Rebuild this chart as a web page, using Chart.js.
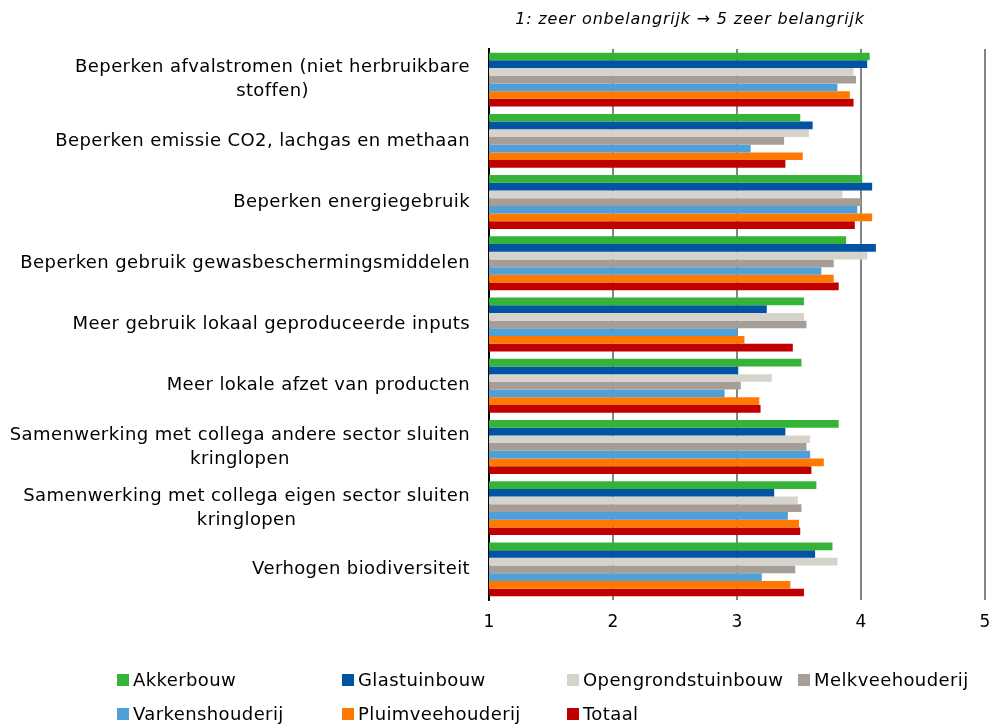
<!DOCTYPE html>
<html>
<head>
<meta charset="utf-8">
<script src="https://cdn.jsdelivr.net/npm/chart.js@4/dist/chart.umd.min.js"></script>
<style>
body { margin: 0; background: #fff; }
#wrap { position: relative; width: 994px; height: 724px; }
.item { position: absolute; font: 18px "DejaVu Sans"; letter-spacing: 0.4px; color: #000; display: flex; align-items: center; white-space: nowrap; line-height: 20px; }
.box { width: 12px; height: 12px; margin-right: 4px; }
</style>
</head>
<body>
<div id="wrap">
  <canvas id="c" width="994" height="724"></canvas>
  <div id="legend"></div>
</div>
<script>
// categories, top to bottom (line breaks as in the original)
var categories = [
  ['Beperken afvalstromen (niet herbruikbare', 'stoffen)'],
  ['Beperken emissie CO2, lachgas en methaan'],
  ['Beperken energiegebruik'],
  ['Beperken gebruik gewasbeschermingsmiddelen'],
  ['Meer gebruik lokaal geproduceerde inputs'],
  ['Meer lokale afzet van producten'],
  ['Samenwerking met collega andere sector sluiten', 'kringlopen'],
  ['Samenwerking met collega eigen sector sluiten', 'kringlopen'],
  ['Verhogen biodiversiteit']
];

var seriesNames = ['Akkerbouw', 'Glastuinbouw', 'Opengrondstuinbouw', 'Melkveehouderij',
                   'Varkenshouderij', 'Pluimveehouderij', 'Totaal'];

var akkerbouw          = [4.07, 3.51, 4.01, 3.88, 3.54, 3.52, 3.82, 3.64, 3.77];
var glastuinbouw       = [4.05, 3.61, 4.09, 4.12, 3.24, 3.01, 3.39, 3.30, 3.63];
var opengrondstuinbouw = [3.94, 3.58, 3.85, 4.05, 3.54, 3.28, 3.59, 3.49, 3.81];
var melkveehouderij    = [3.96, 3.38, 4.00, 3.78, 3.56, 3.03, 3.56, 3.52, 3.47];
var varkenshouderij    = [3.81, 3.11, 3.97, 3.68, 3.00, 2.90, 3.59, 3.41, 3.20];
var pluimveehouderij   = [3.91, 3.53, 4.09, 3.78, 3.06, 3.18, 3.70, 3.50, 3.43];
var totaal             = [3.94, 3.39, 3.95, 3.82, 3.45, 3.19, 3.60, 3.51, 3.54];

var xTicks = [1, 2, 3, 4, 5];
var titleText = '1: zeer onbelangrijk \u2192 5 zeer belangrijk';

var colors = ['#35b336', '#0054a2', '#d6d3cc', '#a59d96', '#4f9fd8', '#ff7800', '#c00000'];
var values = [akkerbouw, glastuinbouw, opengrondstuinbouw, melkveehouderij,
              varkenshouderij, pluimveehouderij, totaal];

var datasets = seriesNames.map(function(name, i) {
  return {
    label: name,
    data: values[i],
    backgroundColor: colors[i],
    borderWidth: 0,
    barPercentage: 1,
    categoryPercentage: 0.88
  };
});

// y labels drawn as centred blocks, right-aligned against the axis
var labelPlugin = {
  id: 'blockLabels',
  afterDraw: function(chart) {
    var ctx = chart.ctx;
    var yScale = chart.scales.y;
    ctx.save();
    ctx.fillStyle = '#000';
    ctx.textAlign = 'left';
    ctx.textBaseline = 'middle';
    ctx.font = '18px "DejaVu Sans"';
    ctx.letterSpacing = '0.4px';
    var right = chart.chartArea.left - 19;
    categories.forEach(function(lines, i) {
      var widths = lines.map(function(t) { return ctx.measureText(t).width; });
      var w = Math.max.apply(null, widths);
      var cx = right - w / 2;
      var cy = yScale.getPixelForValue(i);
      lines.forEach(function(t, j) {
        ctx.fillText(t, cx - widths[j] / 2, cy + (j - (lines.length - 1) / 2) * 24);
      });
    });
    ctx.font = 'italic 16px "DejaVu Sans"';
    ctx.letterSpacing = '0.8px';
    var tw = ctx.measureText(titleText).width;
    ctx.fillText(titleText, 690 - tw / 2, 20);
    ctx.restore();
  }
};

var ctx = document.getElementById('c').getContext('2d');
var chart = new Chart(ctx, {
  type: 'bar',
  data: {
    labels: categories.map(function(l) { return l.join(' '); }),
    datasets: datasets
  },
  options: {
    indexAxis: 'y',
    responsive: false,
    animation: false,
    layout: { padding: { top: 49, right: 9, bottom: 84, left: 0 } },
    plugins: {
      legend: { display: false },
      tooltip: { enabled: false }
    },
    scales: {
      x: {
        min: 1,
        max: 5,
        afterBuildTicks: function(s) { s.ticks = xTicks.map(function(v) { return { value: v }; }); },
        afterFit: function(s) { s.height = 40; s.paddingRight = 0; s.paddingLeft = 0; },
        grid: {
          color: function(c) { return c.tick && c.tick.value === 1 ? 'rgba(0,0,0,0)' : '#858585'; },
          lineWidth: 2,
          drawTicks: false
        },
        border: { display: false },
        ticks: {
          padding: 12,
          color: '#000',
          font: { family: 'DejaVu Sans', size: 17 }
        }
      },
      y: {
        afterFit: function(s) { s.width = 489; },
        grid: { display: false, drawTicks: false },
        border: { display: true, color: '#000', width: 2 },
        ticks: { display: false }
      }
    }
  },
  plugins: [labelPlugin]
});

// legend laid out in fixed columns like the original
var legendPos = [[117, 680], [342, 680], [567, 680], [798, 680],
                 [117, 714], [342, 714], [567, 714]];
var legend = document.getElementById('legend');
seriesNames.forEach(function(name, i) {
  var d = document.createElement('div');
  d.className = 'item';
  d.style.left = legendPos[i][0] + 'px';
  d.style.top = (legendPos[i][1] - 10) + 'px';
  d.innerHTML = '<span class="box" style="background:' + colors[i] + '"></span>' + name;
  legend.appendChild(d);
});
</script>
</body>
</html>
